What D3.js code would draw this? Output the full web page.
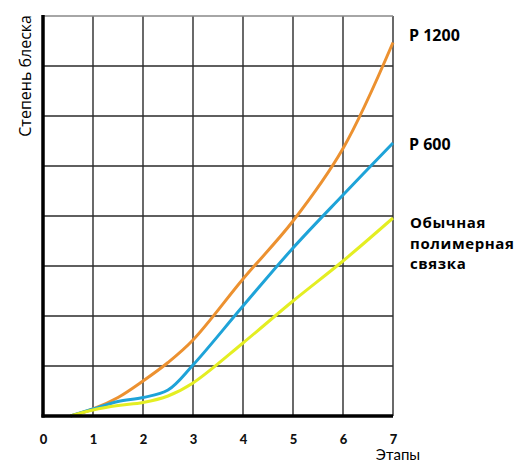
<!DOCTYPE html>
<html>
<head>
<meta charset="UTF-8">
<script src="https://d3js.org/d3.v7.min.js"></script>
<style>
  body { margin: 0; background: #fff; }
  text { font-family: "Open Sans", sans-serif; }
</style>
</head>
<body>
<div id="my_dataviz"></div>
<script>

// data
var stages = [0.55, 1, 1.5, 2, 2.5, 3, 4, 5, 6, 7];
var p1200 = [0, 0.14, 0.37, 0.7, 1.07, 1.52, 2.74, 3.9, 5.35, 7.47];
var p600  = [0, 0.14, 0.29, 0.37, 0.52, 1.02, 2.2, 3.36, 4.42, 5.46];
var plain = [0, 0.12, 0.21, 0.27, 0.4, 0.66, 1.46, 2.3, 3.1, 3.96];
var xTicks = [0, 1, 2, 3, 4, 5, 6, 7];
var yGrid = [1, 2, 3, 4, 5, 6, 7, 8];
var seriesNames = ["P 1200", "P 600", "Обычная полимерная связка"];
var seriesColors = ["#ec9130", "#1ea3d8", "#e4ee22"];

var width = 518, height = 464;

var svg = d3.select("#my_dataviz")
  .append("svg")
    .attr("width", width)
    .attr("height", height);

var x = d3.scaleLinear().domain([0, 7]).range([43, 393]);
var y = d3.scaleLinear().domain([0, 8]).range([416, 16]);

// grid
svg.append("g")
  .selectAll("line")
  .data(xTicks.slice(1))
  .enter()
  .append("line")
    .attr("x1", function(d) { return x(d) })
    .attr("x2", function(d) { return x(d) })
    .attr("y1", y(8))
    .attr("y2", y(0))
    .style("stroke", "#2a2a2a")
    .style("stroke-width", 1.4);

svg.append("g")
  .selectAll("line")
  .data(yGrid)
  .enter()
  .append("line")
    .attr("x1", x(0))
    .attr("x2", x(7))
    .attr("y1", function(d) { return y(d) })
    .attr("y2", function(d) { return y(d) })
    .style("stroke", function(d) { return d == 8 ? "#888" : "#2a2a2a" })
    .style("stroke-width", 1.4);

// lines
var line = d3.line()
  .x(function(d) { return x(d[0]) })
  .y(function(d) { return y(d[1]) })
  .curve(d3.curveCatmullRom.alpha(0.5));

var allSeries = [p1200, p600, plain];
allSeries.forEach(function(vals, i) {
  svg.append("path")
    .datum(stages.map(function(s, j) { return [s, vals[j]] }))
    .attr("d", line)
    .style("fill", "none")
    .style("stroke", seriesColors[i])
    .style("stroke-width", 3);
});

// axes (thick black)
svg.append("line")
  .attr("x1", x(0)).attr("x2", x(0))
  .attr("y1", y(8) - 1).attr("y2", y(0) + 1.5)
  .style("stroke", "#000").style("stroke-width", 3.5);
svg.append("line")
  .attr("x1", x(0) - 1.5).attr("x2", x(7))
  .attr("y1", y(0)).attr("y2", y(0))
  .style("stroke", "#000").style("stroke-width", 3.5);

// tick labels
var xAxis = svg.append("g")
  .attr("transform", "translate(0," + (y(0) + 27.5) + ")")
  .call(d3.axisBottom(x).tickValues(xTicks).tickSize(0).tickFormat(d3.format("d")));
xAxis.select(".domain").remove();
xAxis.selectAll("text")
  .attr("y", 0)
  .attr("dy", 0)
  .style("font-family", "Lato, sans-serif")
  .style("font-weight", "900")
  .style("font-size", "13px")
  .style("fill", "#111");

// axis titles
svg.append("text")
  .attr("x", 398)
  .attr("y", 460)
  .attr("text-anchor", "middle")
  .style("font-family", "Lato, sans-serif")
  .style("font-size", "15px")
  .text("Этапы");

svg.append("text")
  .attr("transform", "translate(31,15) rotate(-90)")
  .attr("text-anchor", "end")
  .style("font-size", "16px")
  .text("Степень блеска");

// series labels on the right
svg.append("text")
  .attr("x", 409).attr("y", 41)
  .style("font-weight", "bold").style("font-size", "16px")
  .text(seriesNames[0]);
svg.append("text")
  .attr("x", 409).attr("y", 150)
  .style("font-weight", "bold").style("font-size", "16px")
  .text(seriesNames[1]);
var words = seriesNames[2].split(" ");
svg.append("text")
  .attr("x", 410).attr("y", 228)
  .style("font-weight", "bold").style("font-size", "15px")
  .style("letter-spacing", "0.6px")
  .selectAll("tspan")
  .data(words)
  .enter()
  .append("tspan")
    .attr("x", 410)
    .attr("dy", function(d, i) { return i == 0 ? 0 : 20.5 })
    .text(function(d) { return d });

</script>
</body>
</html>
